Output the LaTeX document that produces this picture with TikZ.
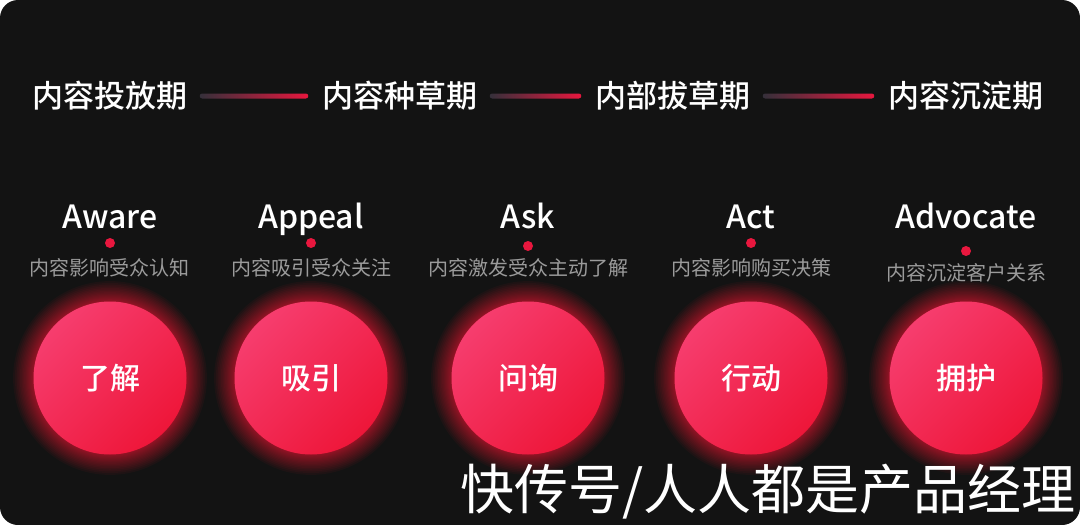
\documentclass[tikz,border=0pt]{standalone}
\usepackage{fontspec}
\setmainfont{Noto Sans CJK SC}[BoldFont={Noto Sans CJK SC Bold}]
\newfontfamily\medium{Noto Sans CJK SC Medium}
\usetikzlibrary{calc}

\definecolor{bg}{HTML}{131313}
\definecolor{hot}{HTML}{EE1639}
\definecolor{pinkish}{HTML}{F63D6E}
\definecolor{capgray}{HTML}{9B9B9B}
\definecolor{linegray}{HTML}{35303A}
\definecolor{dotred}{HTML}{E8173E}

\tikzset{
  stage/.style={text=white, inner sep=0pt, font=\medium\fontsize{31}{31}\selectfont},
  eng/.style={text=white, inner sep=0pt, anchor=base, font=\medium\fontsize{32}{32}\selectfont},
  caption/.style={text=capgray, inner sep=0pt, font=\fontsize{20}{20}\selectfont},
  bubble/.style={circle, minimum size=153pt, inner sep=0pt, text=white,
    top color=pinkish, bottom color=hot, shading angle=45,
    font=\medium\fontsize{30}{30}\selectfont},
}

\begin{document}
\begin{tikzpicture}[x=1pt,y=-1pt]
  \useasboundingbox (0,0) rectangle (1080,525);
  \fill[white] (0,0) rectangle (1080,525);
  \fill[bg, rounded corners=18pt] (0,0) rectangle (1080,525);

  % stages
  \node[stage] (s1) at (110,96) {内容投放期};
  \node[stage] (s2) at (400,96) {内容种草期};
  \node[stage] (s3) at (673,96) {内部拔草期};
  \node[stage] (s4) at (966,96) {内容沉淀期};
  \foreach \a/\b in {s1/s2,s2/s3,s3/s4}
  {
    \shade[left color=linegray, right color=dotred, rounded corners=2.5pt]
      ($(\a.east)+(12,-2.5)$) rectangle ($(\b.west)+(-14,2.5)$);
  }

  % glow
  \foreach \x in {110,311,528,751,966}
  {
    \foreach \r in {1,...,24}
      \fill[hot, opacity=0.05] (\x,378) circle (75+0.038*\r*\r);
  }

  % columns
  \node[eng] (e1) at (110,228) {Aware};
  \node[eng] (e2) at (311,228) {Appeal};
  \node[eng] (e3) at (528,228) {Ask};
  \node[eng] (e4) at (751,228) {Act};
  \node[eng] (e5) at (966,228) {Advocate};

  \fill[dotred] (110,243) circle (5);
  \fill[dotred] (311,243) circle (5);
  \fill[dotred] (528,246) circle (5);
  \fill[dotred] (751,243) circle (5);
  \fill[dotred] (966,251) circle (5);

  \node[caption] (d1) at (110,268) {内容影响受众认知};
  \node[caption] (d2) at (311,268) {内容吸引受众关注};
  \node[caption] (d3) at (528,268) {内容激发受众主动了解};
  \node[caption] (d4) at (751,268) {内容影响购买决策};
  \node[caption] (d5) at (966,273) {内容沉淀客户关系};

  \node[bubble] (b1) at (110,378) {了解};
  \node[bubble] (b2) at (311,378) {吸引};
  \node[bubble] (b3) at (528,378) {问询};
  \node[bubble] (b4) at (751,378) {行动};
  \node[bubble] (b5) at (966,378) {拥护};

  \node[text=white, anchor=east, inner sep=0pt, font=\fontsize{54}{54}\selectfont] (wm) at (1076,492) {快传号/人人都是产品经理};
\end{tikzpicture}
\end{document}
